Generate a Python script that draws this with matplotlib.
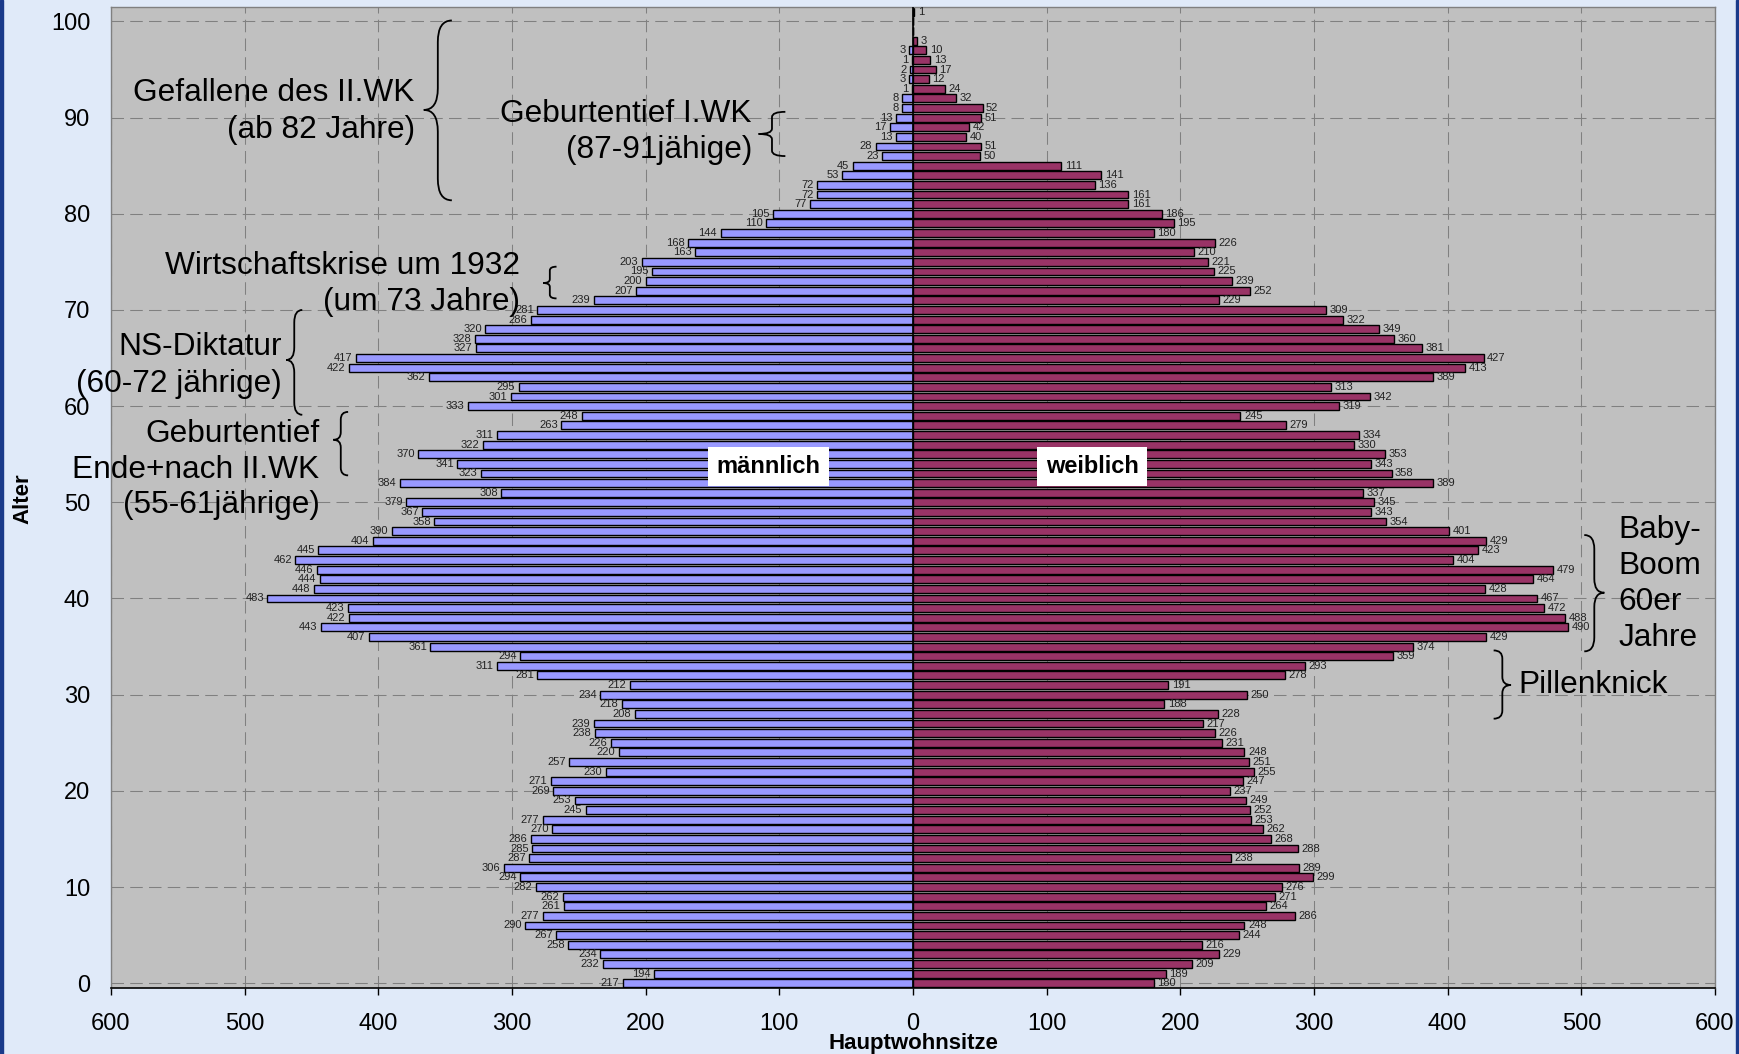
import matplotlib
matplotlib.use("Agg")
import matplotlib.pyplot as plt
from matplotlib.path import Path
from matplotlib.patches import PathPatch, Rectangle

plt.rcParams['font.family'] = ['Liberation Sans', 'DejaVu Sans']

# Alter von oben (101) nach unten (0)
alter = list(range(101, -1, -1))

maennlich = [0, 0, 0, 0, 3, 1, 2, 3, 1, 8, 8, 13, 17, 13, 28, 23, 45, 53, 72, 72,
             77, 105, 110, 144, 168, 163, 203, 195, 200, 207, 239, 281, 286, 320, 328, 327, 417, 422, 362, 295,
             301, 333, 248, 263, 311, 322, 370, 341, 323, 384, 308, 379, 367, 358, 390, 404, 445, 462, 446, 444,
             448, 483, 423, 422, 443, 407, 361, 294, 311, 281, 212, 234, 218, 208, 239, 238, 226, 220, 257, 230,
             271, 269, 253, 245, 277, 270, 286, 285, 287, 306, 294, 282, 262, 261, 277, 290, 267, 258, 234, 232,
             194, 217]

weiblich = [1, 0, 0, 3, 10, 13, 17, 12, 24, 32, 52, 51, 42, 40, 51, 50, 111, 141, 136, 161,
            161, 186, 195, 180, 226, 210, 221, 225, 239, 252, 229, 309, 322, 349, 360, 381, 427, 413, 389, 313,
            342, 319, 245, 279, 334, 330, 353, 343, 358, 389, 337, 345, 343, 354, 401, 429, 423, 404, 479, 464,
            428, 467, 472, 488, 490, 429, 374, 359, 293, 278, 191, 250, 188, 228, 217, 226, 231, 248, 251, 255,
            247, 237, 249, 252, 253, 262, 268, 288, 238, 289, 299, 276, 271, 264, 286, 248, 244, 216, 229, 209,
            189, 180]

x_ticks = [-600, -500, -400, -300, -200, -100, 0, 100, 200, 300, 400, 500, 600]
y_ticks = [0, 10, 20, 30, 40, 50, 60, 70, 80, 90, 100]

farbe_m = '#9999FF'
farbe_w = '#993366'


def klammer(ax, x, y0, y1, w, ym):
  # geschweifte Klammer: w > 0 Spitze links, w < 0 Spitze rechts
  r = 0.12 * (y1 - y0)
  verts = [(x + w, y1), (x, y1), (x, y1 - r), (x, ym + r), (x, ym), (x - w, ym),
           (x, ym), (x, ym - r), (x, y0 + r), (x, y0), (x + w, y0)]
  codes = [Path.MOVETO, Path.CURVE3, Path.CURVE3, Path.LINETO, Path.CURVE3, Path.CURVE3,
           Path.CURVE3, Path.CURVE3, Path.LINETO, Path.CURVE3, Path.CURVE3]
  ax.add_patch(PathPatch(Path(verts, codes), fill=False, lw=1.3, edgecolor='black', zorder=5))


fig = plt.figure(figsize=(17.39, 10.54), dpi=100, facecolor='#E0EAF9')
ax = fig.add_axes([111 / 1739, 1 - 988 / 1054, 1604 / 1739, 981 / 1054])
ax.set_facecolor('#C0C0C0')

neg_m = [-v for v in maennlich]
ax.barh(alter, neg_m, height=0.82, color=farbe_m, edgecolor='black', linewidth=1.0, zorder=2)
ax.barh(alter, weiblich, height=0.82, color=farbe_w, edgecolor='black', linewidth=1.0, zorder=2)
ax.axvline(0, color='black', lw=1.2, zorder=3)

# Zahlen an den Balken
for a, m, w in zip(alter, maennlich, weiblich):
  if m > 0:
    ax.annotate(str(m), (-m, a), xytext=(-2.5, 0), textcoords='offset points',
                ha='right', va='center', fontsize=8, color='#222222', zorder=4)
  if w > 0:
    ax.annotate(str(w), (w, a), xytext=(2.5, 0), textcoords='offset points',
                ha='left', va='center', fontsize=8, color='#222222', zorder=4)

ax.set_xlim(-600, 600)
ax.set_ylim(-0.5, 101.5)
ax.set_xticks(x_ticks)
ax.set_xticklabels([str(abs(t)) for t in x_ticks])
ax.set_yticks(y_ticks)
ax.set_axisbelow(True)
ax.grid(True, color='#808080', linestyle=(0, (12, 6)), linewidth=0.75)
ax.tick_params(axis='x', direction='out', length=5, width=1, pad=13, labelsize=17)
ax.tick_params(axis='y', length=0, pad=15, labelsize=17)
for s in ['left', 'top', 'right']:
  ax.spines[s].set_color('#808080')
  ax.spines[s].set_linewidth(1)
ax.spines['bottom'].set_color('black')
ax.spines['bottom'].set_linewidth(1.2)

# Beschriftung maennlich / weiblich
ax.text(-108, 53.7, 'männlich', ha='center', va='center', fontsize=17, fontweight='bold',
        bbox=dict(boxstyle='square,pad=0.35', fc='white', ec='none'), zorder=6)
ax.text(134, 53.7, 'weiblich', ha='center', va='center', fontsize=17, fontweight='bold',
        bbox=dict(boxstyle='square,pad=0.35', fc='white', ec='none'), zorder=6)

# Anmerkungen
gr = 22.8
ax.text(-372.8, 90.6, 'Gefallene des II.WK\n(ab 82 Jahre)', ha='right', va='center', fontsize=gr, linespacing=1.3, zorder=6)
klammer(ax, -355.5, 81.4, 100.1, 10.5, 90.8)
ax.text(-120.5, 88.5, 'Geburtentief I.WK\n(87-91jähige)', ha='right', va='center', fontsize=gr, linespacing=1.3, zorder=6)
klammer(ax, -105.5, 86.0, 90.6, 10, 88.3)
ax.text(-294, 72.7, 'Wirtschaftskrise um 1932\n(um 73 Jahre)', ha='right', va='center', fontsize=gr, linespacing=1.3, zorder=6)
klammer(ax, -271.7, 71.2, 74.5, 5, 72.8)
ax.text(-472, 64.2, 'NS-Diktatur\n(60-72 jährige)', ha='right', va='center', fontsize=gr, linespacing=1.3, zorder=6)
klammer(ax, -462.9, 59.1, 70.0, 6, 64.8)
ax.text(-444, 53.4, 'Geburtentief\nEnde+nach II.WK\n(55-61jährige)', ha='right', va='center', fontsize=gr, linespacing=1.25, zorder=6)
klammer(ax, -428.1, 52.8, 59.4, 5.5, 56.5)
ax.text(528, 41.5, 'Baby-\nBoom\n60er\nJahre', ha='left', va='center', fontsize=gr, linespacing=1.25, zorder=6)
klammer(ax, 509.7, 34.5, 46.6, -7.5, 40.6)
ax.text(453, 31.0, 'Pillenknick', ha='left', va='center', fontsize=gr, zorder=6)
klammer(ax, 440.9, 27.5, 34.6, -6.5, 31.0)

# Achsentitel
fig.text(23 / 1739, 1 - 499 / 1054, 'Alter', rotation=90, ha='center', va='center', fontsize=16, fontweight='bold')
fig.text(913 / 1739, 1 - 1044 / 1054, 'Hauptwohnsitze', ha='center', va='center', fontsize=16, fontweight='bold')

# dunkler Rand links und rechts
fig.patches.append(Rectangle((0, 0), 3 / 1739, 1, transform=fig.transFigure, color='#1A3A8A', zorder=0))
fig.patches.append(Rectangle((1 - 3 / 1739, 0), 3 / 1739, 1, transform=fig.transFigure, color='#1A3A8A', zorder=0))

fig.savefig('out.png', dpi=100, facecolor=fig.get_facecolor())
